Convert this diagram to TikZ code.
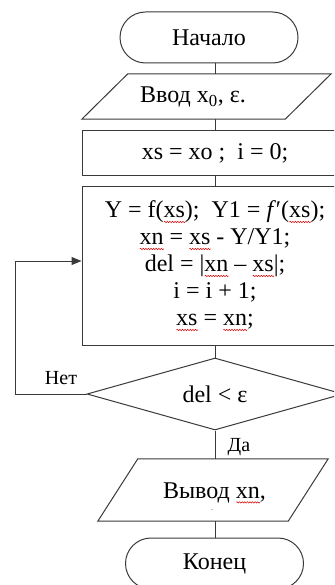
\documentclass[tikz,border=0pt]{standalone}
\usepackage{fontspec}
\setmainfont{Liberation Serif}
\usetikzlibrary{shapes.misc,shapes.geometric,arrows.meta,calc,decorations.pathmorphing}
\newsavebox\wavebox
\newcommand\redwave[1]{\sbox\wavebox{#1}\rlap{\raisebox{-4pt}{\tikz[baseline=0pt]\draw[red!85!black, line width=0.5pt, decorate, decoration={snake,amplitude=0.7pt,segment length=2.6pt}] (0pt,0pt) -- (\wd\wavebox,0pt);}}\usebox\wavebox}
\definecolor{linec}{HTML}{3A3A3A}
\tikzset{
  base/.style={line width=1pt, draw=linec, text=black, font=\fontsize{24}{27}\selectfont, inner sep=0pt},
  term/.style={base, rounded rectangle, minimum width=178pt, minimum height=51pt},
  box/.style={base, rectangle, minimum width=266pt},
  plain/.style={inner sep=0pt, text=black, font=\fontsize{24}{27}\selectfont},
  lbl/.style={inner sep=0pt, text=black, font=\fontsize{20}{22}\selectfont},
  dec/.style={base, diamond, minimum width=256pt, minimum height=72pt, shape aspect=3.56},
  conn/.style={line width=1pt, draw=linec},
  arr/.style={conn, -{Triangle[length=10pt,width=8pt]}}
}
\begin{document}
\begin{tikzpicture}[x=1pt,y=-1pt]
\clip (0,0) rectangle (334,585);
\fill[white] (0,0) rectangle (334,585);
% start
\node[term] (start) at (209,37.5) {Начало};
% input parallelogram (frame node + text)
\node[inner sep=0pt, minimum width=203pt, minimum height=45pt] (in1) at (206.5,96.5) {};
\draw[conn] ([xshift=23pt]in1.north west) -- ([xshift=23pt]in1.north east)
  -- ([xshift=-23pt]in1.south east) -- ([xshift=-23pt]in1.south west) -- cycle;
\node[plain] (in1t) at (193,97) {Ввод x\textsubscript{0}, ε.};
% init
\node[box, minimum height=45pt] (init) at (215,153.5) {xs = xo ;\ \ i = 0;};
% body
\node[box, minimum height=158pt, align=center] (body) at (215,266)
  {Y = f(\redwave{xs});\ \ Y1 = \textit{f}′(\redwave{xs});\\
   \redwave{xn} = \redwave{xs} - Y/Y1;\\
   del = |\redwave{xn} – \redwave{xs}|;\\
   i = i + 1;\\
   \redwave{xs} = \redwave{xn};};
% decision
\node[dec] (cond) at (215,394) {del < ε};
% output parallelogram
\node[inner sep=0pt, minimum width=190pt, minimum height=62pt] (out) at (213,490) {};
\draw[conn] ([xshift=20pt]out.north west) -- ([xshift=20pt]out.north east)
  -- ([xshift=-20pt]out.south east) -- ([xshift=-20pt]out.south west) -- cycle;
\node[plain] (outt) at (214.5,493) {Вывод \redwave{xn},};
\node[inner sep=0pt, text=linec, font=\fontsize{8}{8}\selectfont] (outdot) at (212,510) {.};
% end
\node[term] (stop) at (214.5,563.5) {Конец};
% connectors
\draw[conn] (start.south -| init.north) -- (in1.north -| init.north);
\draw[conn] (in1.south -| init.north) -- (init.north);
\draw[conn] (init.south) -- (body.north);
\draw[conn] (body.south) -- (cond.north);
\draw[conn] (cond.south) -- (out.north -| cond.south);
\draw[conn] (out.south -| cond.south) -- (stop.north -| cond.south);
\coordinate (loop) at (15,261);
\draw[arr] (cond.west) -| (loop) -- (body.west |- loop);
\node[lbl] (no) at (61,378) {Нет};
\node[lbl] (yes) at (239,447) {Да};
\end{tikzpicture}
\end{document}
